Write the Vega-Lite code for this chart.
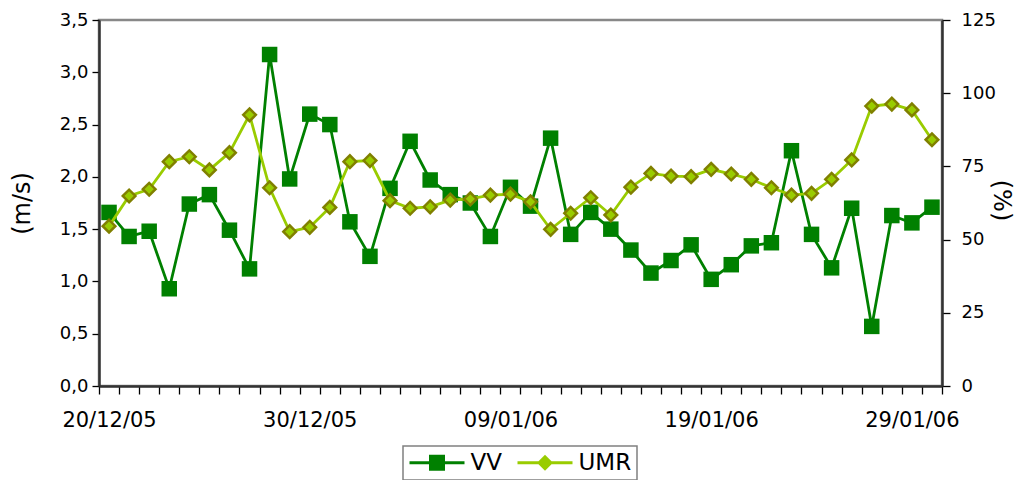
{
  "$schema": "https://vega.github.io/schema/vega-lite/v6.json",
  "width": 843,
  "height": 366,
  "autosize": {"type": "none"},
  "padding": {"left": 99, "top": 20, "right": 76, "bottom": 94},
  "background": "white",
  "config": {
    "font": "DejaVu Sans",
    "view": {"stroke": "#888888", "strokeWidth": 2.5},
    "axis": {"labelColor": "#000000", "titleColor": "#000000", "titleFontWeight": "normal", "grid": false, "tickColor": "#000000", "tickWidth": 1.3, "domainColor": "#333333", "domainWidth": 2.5}
  },
  "data": {
    "values": [
      {"d": "20/12/05", "vv": 1.66, "umr": 54.6},
      {"d": "21/12/05", "vv": 1.43, "umr": 64.9},
      {"d": "22/12/05", "vv": 1.48, "umr": 67.2},
      {"d": "23/12/05", "vv": 0.93, "umr": 76.6},
      {"d": "24/12/05", "vv": 1.74, "umr": 78.3},
      {"d": "25/12/05", "vv": 1.83, "umr": 73.8},
      {"d": "26/12/05", "vv": 1.49, "umr": 79.7},
      {"d": "27/12/05", "vv": 1.12, "umr": 92.6},
      {"d": "28/12/05", "vv": 3.17, "umr": 67.7},
      {"d": "29/12/05", "vv": 1.98, "umr": 52.7},
      {"d": "30/12/05", "vv": 2.60, "umr": 54.2},
      {"d": "31/12/05", "vv": 2.50, "umr": 61.0},
      {"d": "01/01/06", "vv": 1.57, "umr": 76.6},
      {"d": "02/01/06", "vv": 1.24, "umr": 77.0},
      {"d": "03/01/06", "vv": 1.89, "umr": 63.3},
      {"d": "04/01/06", "vv": 2.34, "umr": 60.7},
      {"d": "05/01/06", "vv": 1.97, "umr": 61.2},
      {"d": "06/01/06", "vv": 1.83, "umr": 63.5},
      {"d": "07/01/06", "vv": 1.75, "umr": 63.9},
      {"d": "08/01/06", "vv": 1.43, "umr": 65.2},
      {"d": "09/01/06", "vv": 1.90, "umr": 65.5},
      {"d": "10/01/06", "vv": 1.72, "umr": 62.9},
      {"d": "11/01/06", "vv": 2.37, "umr": 53.5},
      {"d": "12/01/06", "vv": 1.45, "umr": 59.0},
      {"d": "13/01/06", "vv": 1.66, "umr": 64.3},
      {"d": "14/01/06", "vv": 1.50, "umr": 58.4},
      {"d": "15/01/06", "vv": 1.30, "umr": 67.9},
      {"d": "16/01/06", "vv": 1.08, "umr": 72.6},
      {"d": "17/01/06", "vv": 1.20, "umr": 71.7},
      {"d": "18/01/06", "vv": 1.35, "umr": 71.5},
      {"d": "19/01/06", "vv": 1.02, "umr": 74.0},
      {"d": "20/01/06", "vv": 1.16, "umr": 72.4},
      {"d": "21/01/06", "vv": 1.34, "umr": 70.6},
      {"d": "22/01/06", "vv": 1.37, "umr": 67.7},
      {"d": "23/01/06", "vv": 2.25, "umr": 65.2},
      {"d": "24/01/06", "vv": 1.45, "umr": 65.8},
      {"d": "25/01/06", "vv": 1.13, "umr": 70.6},
      {"d": "26/01/06", "vv": 1.70, "umr": 77.2},
      {"d": "27/01/06", "vv": 0.57, "umr": 95.6},
      {"d": "28/01/06", "vv": 1.63, "umr": 96.3},
      {"d": "29/01/06", "vv": 1.56, "umr": 94.3},
      {"d": "30/01/06", "vv": 1.71, "umr": 84.1}
    ]
  },
  "encoding": {
    "x": {
      "field": "d",
      "type": "ordinal",
      "sort": null,
      "scale": {"type": "band", "paddingInner": 0, "paddingOuter": 0},
      "axis": {
        "title": null,
        "tickBand": "extent",
        "tickSize": 8,
        "labelAngle": 0,
        "labelFontSize": 21,
        "labelPadding": 15,
        "labelOverlap": false,
        "labelBound": false,
        "labelExpr": "indexof(['20/12/05','30/12/05','09/01/06','19/01/06','29/01/06'], datum.value) >= 0 ? datum.value : ''",
        "encode": {"ticks": {"update": {"y": {"value": -8}}}}
      }
    }
  },
  "layer": [
    {
      "encoding": {
        "y": {
          "field": "vv",
          "type": "quantitative",
          "scale": {"domain": [0, 3.5], "nice": false},
          "axis": {
            "orient": "left",
            "title": "(m/s)",
            "titleFontSize": 24,
            "titleAngle": 270,
            "titleX": -77,
            "titleY": 183,
            "titleAlign": "center",
            "titleBaseline": "middle",
            "values": [0, 0.5, 1, 1.5, 2, 2.5, 3, 3.5],
            "labelExpr": "replace(format(datum.value, '.1f'), '.', ',')",
            "labelFontSize": 18,
            "tickSize": 7,
            "labelPadding": 4,
            "encode": {"ticks": {"update": {"x": {"value": 7}}}}
          }
        },
        "color": {
          "datum": "VV",
          "type": "nominal",
          "scale": {"domain": ["VV", "UMR"], "range": ["#008000", "#99CC00"]},
          "legend": {
            "title": null,
            "orient": "none",
            "legendX": 304,
            "legendY": 426,
            "direction": "horizontal",
            "strokeColor": "#808080",
            "fillColor": "white",
            "padding": 5,
            "labelFontSize": 23,
            "labelColor": "#000000",
            "labelOffset": 22,
            "columnPadding": 14,
            "symbolSize": 400,
            "symbolOffset": 17.5,
            "encode": {
              "legend": {"update": {"strokeWidth": {"value": 1.5}}},
              "symbols": {
                "update": {
                  "shape": {"signal": "datum.value === 'VV' ? 'M-2.75,-0.15H2.75V0.15H-2.75Z M-0.8,-0.8H0.8V0.8H-0.8Z' : 'M-2.75,-0.15H2.75V0.15H-2.75Z M0,-0.8L0.8,0L0,0.8L-0.8,0Z'"},
                  "fill": {"signal": "datum.value === 'VV' ? '#008000' : '#99CC00'"},
                  "stroke": {"signal": "datum.value === 'VV' ? '#008000' : '#99CC00'"},
                  "strokeWidth": {"value": 0},
                  "opacity": {"value": 1}
                }
              }
            }
          }
        }
      },
      "layer": [
        {"mark": {"type": "line", "strokeWidth": 2.8}},
        {"mark": {"type": "point", "shape": "square", "filled": true, "size": 240, "opacity": 1}}
      ]
    },
    {
      "encoding": {
        "y": {
          "field": "umr",
          "type": "quantitative",
          "scale": {"domain": [0, 125], "nice": false},
          "axis": {
            "orient": "right",
            "title": "(%)",
            "titleFontSize": 24,
            "titleAngle": 90,
            "titleX": 58,
            "titleY": 180,
            "titleAlign": "center",
            "titleBaseline": "middle",
            "values": [0, 25, 50, 75, 100, 125],
            "labelFontSize": 18,
            "tickSize": 8,
            "labelPadding": 11,
            "encode": {"ticks": {"update": {"x": {"value": -7}}}}
          }
        },
        "color": {"datum": "UMR", "type": "nominal"}
      },
      "layer": [
        {"mark": {"type": "line", "strokeWidth": 2.8}},
        {"mark": {"type": "point", "shape": "diamond", "filled": true, "size": 160, "opacity": 1, "stroke": "#808000", "strokeWidth": 2.5}}
      ]
    }
  ],
  "resolve": {"scale": {"y": "independent"}, "axis": {"y": "independent"}}
}
